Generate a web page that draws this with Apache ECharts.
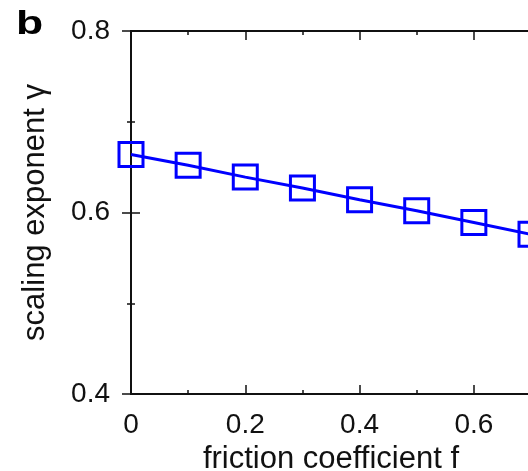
<!DOCTYPE html>
<html>
<head>
<meta charset="utf-8">
<script src="https://cdn.jsdelivr.net/npm/echarts@6/dist/echarts.min.js"></script>
<style>html,body{margin:0;padding:0;background:#fff;}#c{width:528px;height:471px;}</style>
</head>
<body>
<div id="c"></div>
<script>
const frictionF = [0, 0.1, 0.2, 0.3, 0.4, 0.5, 0.6, 0.7];
const gammaValues = [0.664, 0.652, 0.639, 0.627, 0.614, 0.602, 0.589, 0.576];
const xTickLabels = ['0', '0.2', '0.4', '0.6'];
const yTickLabels = ['0.4', '0.6', '0.8'];

const chart = echarts.init(document.getElementById('c'), null, {renderer: 'canvas'});
const font = 'Liberation Sans, Arial, sans-serif';
const black = '#111';

function xAx(pos, interval, len, labels, line) {
  return {
    type: 'value', position: pos, min: 0, max: 0.7, interval: interval,
    axisLine: {show: line, onZero: false, lineStyle: {color: black, width: 2}},
    axisTick: {show: true, inside: true, length: len, lineStyle: {color: black, width: 1.5}},
    splitLine: {show: false},
    axisLabel: labels ? {
      show: true, margin: 17, fontSize: 28, fontFamily: font, color: black,
      showMaxLabel: false,
      formatter: v => { const s = String(Math.round(v * 10) / 10); return xTickLabels.includes(s) ? s : ''; }
    } : {show: false}
  };
}

const option = {
  animation: false,
  backgroundColor: '#fff',
  grid: {left: 131, top: 31, right: -3, bottom: 77, containLabel: false, outerBoundsMode: 'none'},
  graphic: [{type: 'text', x: 16, y: 8, scaleX: 1.35, style: {text: 'b', font: 'bold 33px ' + font, fill: '#000'}}],
  xAxis: [
    Object.assign(xAx('bottom', 0.2, 9, true, true), {
      name: 'friction coefficient f', nameLocation: 'middle', nameGap: 45,
      nameTextStyle: {fontSize: 31, fontFamily: font, color: black}
    }),
    xAx('bottom', 0.1, 4, false, false),
    xAx('top', 0.2, 9, false, true),
    xAx('top', 0.1, 4, false, false)
  ],
  yAxis: [
    {
      type: 'value', position: 'left', min: 0.4, max: 0.8, interval: 0.2,
      name: 'scaling exponent \u03b3', nameLocation: 'middle', nameGap: 80,
      nameTextStyle: {fontSize: 31, fontFamily: font, color: black},
      axisLine: {show: true, lineStyle: {color: black, width: 2}},
      axisTick: {show: true, inside: true, length: 9, lineStyle: {color: black, width: 1.5}},
      minorTick: {show: true, splitNumber: 2, length: 4, lineStyle: {color: black, width: 1.5}},
      splitLine: {show: false},
      axisLabel: {show: true, margin: 21, fontSize: 28, fontFamily: font, color: black,
        formatter: v => { const s = String(Math.round(v * 10) / 10); return yTickLabels.includes(s) ? s : ''; }}
    },
    {
      type: 'value', position: 'right', min: 0.4, max: 0.8, interval: 0.2,
      axisLine: {show: true, lineStyle: {color: black, width: 2}},
      axisTick: {show: true, inside: true, length: 9, lineStyle: {color: black, width: 1.5}},
      minorTick: {show: true, splitNumber: 2, length: 4, lineStyle: {color: black, width: 1.5}},
      splitLine: {show: false},
      axisLabel: {show: false}
    }
  ],
  series: [{
    type: 'line',
    data: frictionF.map((f, i) => [f, gammaValues[i]]),
    xAxisIndex: 0, yAxisIndex: 0,
    symbol: 'rect', symbolSize: 24, showAllSymbol: true,
    lineStyle: {color: '#0000ff', width: 3},
    itemStyle: {color: 'rgba(0,0,0,0)', borderColor: '#0000ff', borderWidth: 3},
    clip: false
  }]
};
chart.setOption(option);
</script>
</body>
</html>
